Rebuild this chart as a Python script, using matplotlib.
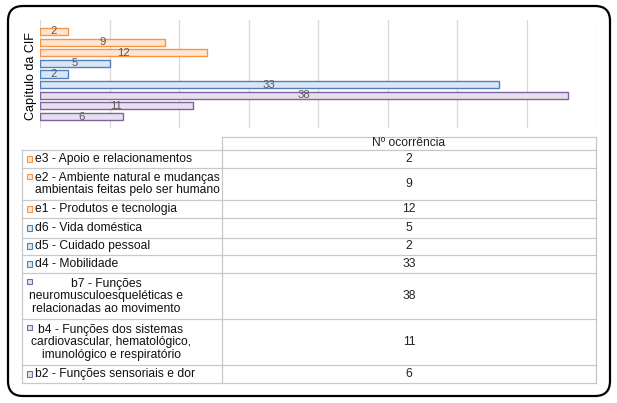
import matplotlib
matplotlib.use("Agg")
import matplotlib.pyplot as plt
from matplotlib.patches import FancyBboxPatch, Rectangle

plt.rcParams['font.family'] = ['Liberation Sans', 'DejaVu Sans']

# Data (top to bottom as in the chart)
categories = [
    "e3 - Apoio e relacionamentos",
    "e2 - Ambiente natural e mudanças\nambientais feitas pelo ser humano",
    "e1 - Produtos e tecnologia",
    "d6 - Vida doméstica",
    "d5 - Cuidado pessoal",
    "d4 - Mobilidade",
    "b7 - Funções\nneuromusculoesqueléticas e\nrelacionadas ao movimento",
    "b4 - Funções dos sistemas\ncardiovascular, hematológico,\nimunológico e respiratório",
    "b2 - Funções sensoriais e dor",
]
values = [2, 9, 12, 5, 2, 33, 38, 11, 6]
groups = ["e", "e", "e", "d", "d", "d", "b", "b", "b"]
table_header = "Nº ocorrência"
axis_label = "Capítulo da CIF"

fills = {"e": "#FDE5D2", "d": "#DCE6F2", "b": "#E6E0EC"}
edges = {"e": "#F79646", "d": "#4F81BD", "b": "#8064A2"}

W, H = 617, 403
fig = plt.figure(figsize=(W / 100, H / 100), dpi=100)

# full-figure pixel axes for frame and table
bg = fig.add_axes([0, 0, 1, 1])
bg.set_xlim(0, W)
bg.set_ylim(H, 0)
bg.axis("off")

frame = FancyBboxPatch((8, 6), 602, 390, boxstyle="round,pad=0,rounding_size=15",
                       fc="white", ec="black", lw=1.6, zorder=0)
bg.add_patch(frame)

# bar chart area
x0, x1, ytop, ybot = 40, 596, 20, 128
ax = fig.add_axes([x0 / W, 1 - ybot / H, (x1 - x0) / W, (ybot - ytop) / H])
ax.patch.set_alpha(0)
pos = list(range(len(values)))
ax.barh(pos, values, height=0.66,
        color=[fills[g] for g in groups],
        edgecolor=[edges[g] for g in groups], linewidth=1.0, zorder=3)
for p, v in zip(pos, values):
    ax.text(v / 2, p, str(v), ha="center", va="center", fontsize=8.2,
            color="#595959", zorder=4)
ax.set_xlim(0, 40)
ax.set_ylim(9.08, -1.08)
ax.set_xticks(range(0, 41, 5))
ax.set_yticks([])
ax.tick_params(axis="x", length=0, labelbottom=False)
ax.grid(axis="x", color="#D9D9D9", lw=0.9, zorder=0)
for s in ax.spines.values():
    s.set_visible(False)
fig.text(31 / W, 1 - 76 / H, axis_label, rotation=90, ha="center", va="center",
         fontsize=9, color="black")

# data table
row_edges = [150, 168.3, 200, 218.3, 237.7, 255, 273.3, 319.3, 365, 383.3]
tl, tm, tr = 22, 222, 596
lc = "#C8C8C8"
bg.plot([tm, tr], [136.7, 136.7], color=lc, lw=0.9)
bg.plot([tm, tm], [136.7, row_edges[-1]], color=lc, lw=0.9)
bg.plot([tr, tr], [136.7, row_edges[-1]], color=lc, lw=0.9)
bg.plot([tl, tl], [row_edges[0], row_edges[-1]], color=lc, lw=0.9)
for y in row_edges:
    bg.plot([tl, tr], [y, y], color=lc, lw=0.9)
bg.text((tm + tr) / 2, 143.5, table_header, ha="center", va="center",
        fontsize=8.7, color="#222222")

fs = 8.7
for i, (lab, v, g) in enumerate(zip(categories, values, groups)):
    top, bot = row_edges[i], row_edges[i + 1]
    yc = (top + bot) / 2
    nlines = lab.count("\n") + 1
    first_y = yc - (nlines - 1) * 7.3
    bg.add_patch(Rectangle((26.5, first_y - 3), 5.5, 5.5, fc=fills[g], ec=edges[g], lw=0.8))
    if nlines == 3:
        cx = 106 if i == 6 else 111
        bg.text(cx, yc, lab, ha="center", va="center", multialignment="center",
                fontsize=fs, color="#111111", linespacing=1.05)
    else:
        bg.text(35, yc, lab, ha="left", va="center", fontsize=fs,
                color="#111111", linespacing=1.05)
    bg.text((tm + tr) / 2, yc, str(v), ha="center", va="center", fontsize=fs,
            color="#222222")

fig.savefig("out.png", dpi=100, facecolor="white")
